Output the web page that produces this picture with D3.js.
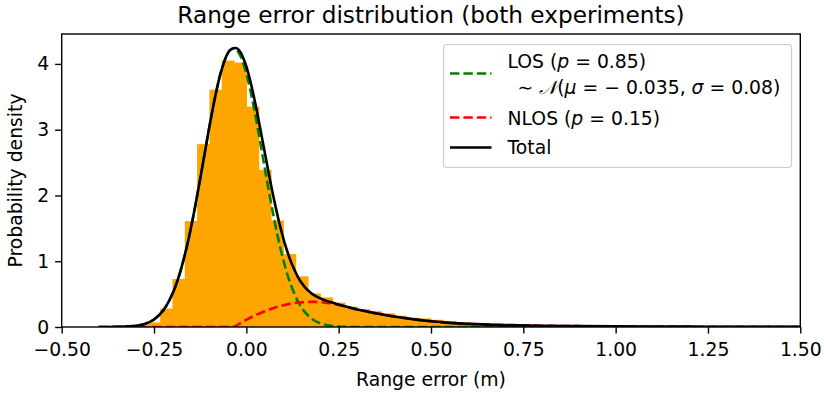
<!DOCTYPE html>
<html>
<head>
<meta charset="utf-8">
<script src="https://cdn.jsdelivr.net/npm/d3@7"></script>
<style>
  html, body { margin: 0; padding: 0; background: #fff; }
  svg { display: block; font-family: "DejaVu Sans", sans-serif; }
</style>
</head>
<body>
<svg id="chart" width="824" height="393"></svg>
<script>
// Histogram of range errors: bins start at -0.4 m, 1/30 m wide, heights are densities
const binStart = -0.4;
const binWidth = 1 / 30;
const binDensity = [
  0.005, 0.005, 0.01, 0.02, 0.07, 0.28, 0.73, 1.61, 2.78, 3.61,
  4.05, 4.02, 3.35, 2.39, 1.62, 1.11, 0.77, 0.51, 0.45, 0.37,
  0.31, 0.27, 0.24, 0.21, 0.17, 0.14, 0.13, 0.11, 0.09, 0.07,
  0.06, 0.05, 0.045, 0.04, 0.035, 0.03, 0.028, 0.025, 0.022, 0.02,
  0.018, 0.016, 0.015, 0.013, 0.012, 0.011, 0.01, 0.009, 0.008, 0.008,
  0.007, 0.006, 0.006, 0.005, 0.005, 0.004, 0.004
];

// Line-of-sight component: weight and Gaussian parameters from the legend
const losWeight = 0.85;
const losMu = -0.035;
const losSigma = 0.08;

// Non-line-of-sight component (weighted density, p = 0.15)
const nlosX = [
  -0.4, -0.35, -0.3, -0.25, -0.2, -0.15, -0.1, -0.075, -0.05, -0.035,
  -0.025, -0.0125, 0.0, 0.0125, 0.025, 0.05, 0.075, 0.1, 0.125, 0.15,
  0.175, 0.2, 0.225, 0.25, 0.275, 0.3, 0.35, 0.4, 0.45, 0.5,
  0.55, 0.6, 0.7, 0.8, 0.9, 1.0, 1.1, 1.2, 1.3, 1.4, 1.5
];
const nlosY = [
  0, 0, 0, 0, 0, 0, 0, 0, 0, 0,
  0.03, 0.07, 0.11, 0.145, 0.18, 0.24, 0.29, 0.33, 0.36, 0.375,
  0.382, 0.378, 0.362, 0.335, 0.3, 0.265, 0.21, 0.16, 0.12, 0.087,
  0.063, 0.047, 0.029, 0.019, 0.013, 0.009, 0.007, 0.005, 0.004, 0.003, 0.002
];

// Sample positions where the LOS density (and the total) is evaluated
const losSampleX = [
  -0.4, -0.35, -0.3, -0.275, -0.25, -0.225, -0.2, -0.18, -0.16, -0.14,
  -0.12, -0.1, -0.085, -0.07, -0.055, -0.045, -0.035, -0.025, -0.015, 0.0,
  0.015, 0.03, 0.045, 0.06, 0.075, 0.09, 0.105, 0.12, 0.14, 0.16,
  0.18, 0.2, 0.225, 0.25, 0.3, 0.35, 0.4, 0.5, 0.6, 0.8, 1.0, 1.25, 1.5
];

const xTicks = [-0.5, -0.25, 0, 0.25, 0.5, 0.75, 1.0, 1.25, 1.5];
const yTicks = [0, 1, 2, 3, 4];

const titleText = "Range error distribution (both experiments)";
const xLabelText = "Range error (m)";
const yLabelText = "Probability density";

// ---- layout ----
const plot = { left: 61.7, right: 800.3, top: 34, bottom: 327 };
const xDomain = [-0.5, 1.5];
const yMax = 4.455;
const fs = 18.8;        // tick, axis-label and legend text
const titleFs = 23.2;
const tickLen = 6.6;

const svg = d3.select("#chart");
const x = d3.scaleLinear().domain(xDomain).range([plot.left, plot.right]);
const y = d3.scaleLinear().domain([0, yMax]).range([plot.bottom, plot.top]);

const normalPdf = (v, mu, s) =>
  Math.exp(-0.5 * ((v - mu) / s) ** 2) / (s * Math.sqrt(2 * Math.PI));
const losAt = v => losWeight * normalPdf(v, losMu, losSigma);
const nlosAt = d3.scaleLinear().domain(nlosX).range(nlosY).clamp(true);

svg.append("defs").append("clipPath").attr("id", "plotclip")
  .append("rect")
  .attr("x", plot.left).attr("y", plot.top)
  .attr("width", plot.right - plot.left).attr("height", plot.bottom - plot.top);

const g = svg.append("g").attr("clip-path", "url(#plotclip)");

// histogram bars
const bins = binDensity.map((d, i) => ({
  x0: binStart + i * binWidth,
  x1: binStart + (i + 1) * binWidth,
  v: d
}));
g.selectAll("rect.bar").data(bins).join("rect")
  .attr("class", "bar")
  .attr("x", d => x(d.x0))
  .attr("width", d => x(d.x1) - x(d.x0) + 0.6)
  .attr("y", d => y(d.v))
  .attr("height", d => y(0) - y(d.v))
  .attr("fill", "#ffa500");

// curves
const line = d3.line().x(d => x(d[0])).y(d => y(d[1])).curve(d3.curveCatmullRom.alpha(0.5));
const totalX = Array.from(new Set([...losSampleX, ...nlosX])).sort((a, b) => a - b);

const losPts = losSampleX.map(v => [v, losAt(v)]);
const nlosPts = nlosX.map((v, i) => [v, nlosY[i]]);
const totalPts = totalX.map(v => [v, losAt(v) + nlosAt(v)]);

const lw = 2.6;
const dash = "9.4,4";
g.append("path").attr("d", line(losPts)).attr("fill", "none")
  .attr("stroke", "#008000").attr("stroke-width", lw).attr("stroke-dasharray", dash);
g.append("path").attr("d", line(nlosPts)).attr("fill", "none")
  .attr("stroke", "#ff0000").attr("stroke-width", lw).attr("stroke-dasharray", dash);
g.append("path").attr("d", line(totalPts)).attr("fill", "none")
  .attr("stroke", "#000").attr("stroke-width", lw);

// axes
const xAxis = d3.axisBottom(x).tickValues(xTicks).tickSize(tickLen).tickPadding(9)
  .tickFormat(d => d3.format(".2f")(d).replace("-", "\u2212"));
const yAxis = d3.axisLeft(y).tickValues(yTicks).tickSize(tickLen).tickPadding(6)
  .tickFormat(d3.format("d"));

const gx = svg.append("g").attr("transform", `translate(0,${plot.bottom})`).call(xAxis);
const gy = svg.append("g").attr("transform", `translate(${plot.left},0)`).call(yAxis);
[gx, gy].forEach(a => {
  a.select(".domain").remove();
  a.selectAll(".tick line").attr("stroke", "#000").attr("stroke-width", 1.4);
  a.selectAll(".tick text").attr("fill", "#000").attr("font-size", fs)
    .attr("font-family", "DejaVu Sans");
});

// frame
svg.append("rect")
  .attr("x", plot.left).attr("y", plot.top)
  .attr("width", plot.right - plot.left).attr("height", plot.bottom - plot.top)
  .attr("fill", "none").attr("stroke", "#000").attr("stroke-width", 1.4);

// titles
svg.append("text").attr("x", (plot.left + plot.right) / 2).attr("y", 23)
  .attr("text-anchor", "middle").attr("font-size", titleFs).text(titleText);
svg.append("text").attr("x", (plot.left + plot.right) / 2).attr("y", 386)
  .attr("text-anchor", "middle").attr("font-size", fs).text(xLabelText);
svg.append("text")
  .attr("transform", `translate(22,${(plot.top + plot.bottom) / 2}) rotate(-90)`)
  .attr("text-anchor", "middle").attr("font-size", fs).text(yLabelText);

// legend
const lg = svg.append("g");
lg.append("rect").attr("x", 443.5).attr("y", 44.5).attr("width", 348).attr("height", 123)
  .attr("rx", 3.5).attr("fill", "#fff").attr("fill-opacity", 0.8)
  .attr("stroke", "#cccccc").attr("stroke-width", 1.2);

const hx0 = 450, hx1 = 491.5, tx = 507.5;
const handle = (yy, color, dashed) => lg.append("line")
  .attr("x1", hx0).attr("x2", hx1).attr("y1", yy).attr("y2", yy)
  .attr("stroke", color).attr("stroke-width", lw)
  .attr("stroke-dasharray", dashed ? dash : null);
handle(73.5, "#008000", true);
handle(117.5, "#ff0000", true);
handle(147.5, "#000", false);

const label = (yy) => lg.append("text").attr("x", tx).attr("y", yy).attr("font-size", fs);
const l1 = label(67.5);
l1.append("tspan").text("LOS (");
l1.append("tspan").attr("font-style", "italic").text("p");
l1.append("tspan").text(" = 0.85)");
const l2 = label(93.5);
l2.append("tspan").attr("x", tx + 10).text("\u223C ");
l2.append("tspan").attr("font-family", "DejaVu Serif").attr("font-style", "italic").text("\uD835\uDCA9");
l2.append("tspan").text("(");
l2.append("tspan").attr("font-style", "italic").text("\u03BC");
l2.append("tspan").text(" =  \u2212 0.035, ");
l2.append("tspan").attr("font-style", "italic").text("\u03C3");
l2.append("tspan").text(" = 0.08)");
const l3 = label(124.5);
l3.append("tspan").text("NLOS (");
l3.append("tspan").attr("font-style", "italic").text("p");
l3.append("tspan").text(" = 0.15)");
label(154).text("Total");
</script>
</body>
</html>
